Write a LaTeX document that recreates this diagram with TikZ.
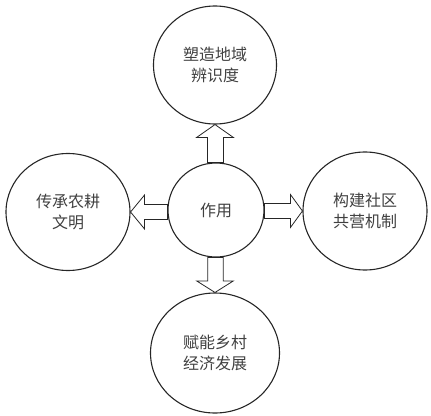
\documentclass[tikz,border=0pt]{standalone}
\usepackage{fontspec}
\setmainfont{Noto Sans CJK SC}
\usepackage{tikz}
\usetikzlibrary{shapes.geometric,calc}

\begin{document}
\begin{tikzpicture}[x=1pt,y=1pt,yscale=-1,xscale=1,
  roundbox/.style={draw=black!85,line width=1.1pt,ellipse,inner sep=0pt,align=center,
    text=black!75,font=\fontsize{16}{21}\selectfont},
  hollow/.style={draw=black!85,line width=0.8pt,line join=miter,fill=white}]
\useasboundingbox (0,0) rectangle (431,415);

% Shape: Circle (middle)
\node[roundbox,minimum width=96,minimum height=94] (cen) at (216,210) {作用};
% Shape: Circle (top)
\node[roundbox,minimum width=123,minimum height=118] (top) at (215,65) {塑造地域\\辨识度};
% Shape: Circle (left)
\node[roundbox,minimum width=124,minimum height=117] (left) at (68,212) {传承农耕\\文明};
% Shape: Circle (right)
\node[roundbox,minimum width=124,minimum height=118] (right) at (365,211) {构建社区\\共营机制};
% Shape: Circle (bottom)
\node[roundbox,minimum width=129,minimum height=120] (bot) at (215,353) {赋能乡村\\经济发展};

% Shape: Block Arrow up
\draw[hollow] (top.south) -- ++(18.5,13) -- ++(-10,0) |- ($(cen.north)+(-8.5,0)$) |- ($(top.south)+(-18.5,13)$) -- cycle;
% Shape: Block Arrow down
\draw[hollow] (bot.north) -- ++(18.3,-11.5) -- ++(-10,0) |- ($(cen.south)+(-8.3,0)$) |- ($(bot.north)+(-18.3,-11.5)$) -- cycle;
% Shape: Block Arrow left
\draw[hollow] (left.east) -- ++(14,-17) -- ++(0,9.5) -| ($(cen.west)+(0,9.5)$) -| ($(left.east)+(14,17)$) -- cycle;
% Shape: Block Arrow right
\draw[hollow] (right.west) -- ++(-12,-16.5) -- ++(0,9) -| ($(cen.east)+(0,8.5)$) -| ($(right.west)+(-12,16.5)$) -- cycle;

\end{tikzpicture}
\end{document}
